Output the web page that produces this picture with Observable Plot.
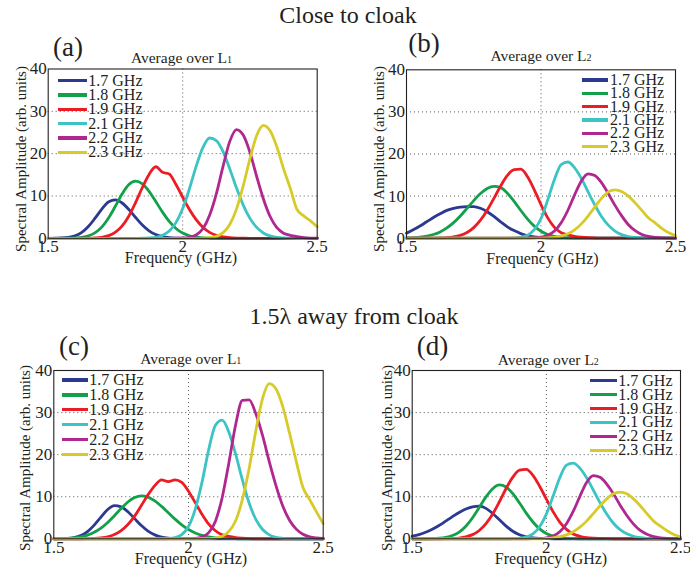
<!DOCTYPE html>
<html><head><meta charset="utf-8">
<script src="https://cdn.jsdelivr.net/npm/d3@7"></script>
<script src="https://cdn.jsdelivr.net/npm/@observablehq/plot@0.6"></script>
<style>
body{margin:0;background:#fff;}
#root{position:relative;width:690px;height:569px;overflow:hidden;font-family:"Liberation Serif","Times New Roman",serif;color:#231f20;}
.abs{position:absolute;white-space:nowrap;line-height:1;}
.c{transform:translate(-50%,-50%);}
.rot{writing-mode:vertical-rl;transform:translate(-50%,-50%) rotate(180deg);}
.xl{line-height:0.85;transform:translate(-50%,-50%);}
.leg{line-height:0.8;transform:translateY(-50%);}
svg{overflow:visible;}
</style></head>
<body><div id="root"></div>
<script>
// ---------- data ----------
const freq = [1.500,1.525,1.550,1.575,1.600,1.625,1.650,1.675,1.700,1.725,
              1.750,1.775,1.800,1.825,1.850,1.875,1.900,1.925,1.950,1.975,
              2.000,2.025,2.050,2.075,2.100,2.125,2.150,2.175,2.200,2.225,
              2.250,2.275,2.300,2.325,2.350,2.375,2.400,2.425,2.450,2.475,2.500];
const seriesLabels = ["1.7 GHz","1.8 GHz","1.9 GHz","2.1 GHz","2.2 GHz","2.3 GHz"];
const seriesColors = ["#2b3990","#12a04a","#ec1c24","#3cc3c3","#b0288f","#d7cb2a"];
const xTicks = [1.5, 2, 2.5];
const yTicks = [0, 10, 20, 30, 40];
const yGrid = [10, 20, 30];
const xGrid = [2];

// (a) close to cloak, average over L1
const A17 = [0,0.02,0.07,0.21,0.59,1.39,2.83,4.82,6.96,8.64,
             9.08,8.34,6.81,4.91,3.14,1.77,0.89,0.40,0.16,0.05,
             0.01,0,0,0,0,0,0,0,0,0,
             0,0,0,0,0,0,0,0,0,0,0];
const A18 = [0,0,0.01,0.02,0.08,0.23,0.59,1.36,2.71,4.85,
             7.62,10.5,12.7,13.5,12.85,11.1,8.68,6.18,3.98,2.33,
             1.23,0.59,0.26,0.10,0.04,0.01,0,0,0,0,
             0,0,0,0,0,0,0,0,0,0,0];
const A19 = [0,0,0,0,0,0.01,0.02,0.08,0.24,0.63,
             1.44,2.93,5.28,8.47,12.0,15.1,16.9,15.6,15.2,12.7,
             9.7,6.8,4.4,2.6,1.40,0.70,0.31,0.13,0.05,0.02,
             0,0,0,0,0,0,0,0,0,0,0];
const A21 = [0,0,0,0,0,0,0,0,0,0,
             0,0,0,0,0.01,0.07,0.24,0.69,1.72,3.70,
             7.02,11.7,17.0,21.4,23.7,23.1,20.5,16.4,11.9,7.85,
             4.71,2.57,1.26,0.56,0.23,0.09,0.03,0,0,0,0];
const A22 = [0,0,0,0,0,0,0,0,0,0,
             0,0,0,0,0,0,0,0,0,0.01,
             0.06,0.24,0.79,2.25,5.45,10.5,17.0,22.9,25.7,24.4,
             20.3,14.6,9.3,5.15,2.5,1.2,0.7,0.4,0.18,0.06,0.01];
const A23 = [0,0,0,0,0,0,0,0,0,0,
             0,0,0,0,0,0,0,0,0,0,
             0,0,0,0.03,0.13,0.45,1.33,3.27,6.9,12.4,
             18.8,24.3,26.7,25.4,21.6,16.4,11.8,6.8,5.3,4.1,2.7];

// (b) close to cloak, average over L2
const B17 = [1.2,2.0,2.9,3.9,4.9,5.8,6.6,7.1,7.4,7.5,
             7.5,7.1,6.3,5.2,3.9,2.7,1.8,1.1,0.6,0.3,
             0.15,0.05,0,0,0,0,0,0,0,0,
             0,0,0,0,0,0,0,0,0,0,0];
const B18 = [0.05,0.12,0.24,0.48,0.87,1.49,2.43,3.70,5.28,7.08,
             8.93,10.6,11.8,12.3,12.0,10.7,8.76,6.58,4.55,2.87,
             1.66,0.89,0.43,0.19,0.08,0.03,0.01,0,0,0,
             0,0,0,0,0,0,0,0,0,0,0];
const B19 = [0,0,0,0,0.02,0.05,0.13,0.31,0.68,1.36,
             2.52,4.27,6.65,9.46,12.4,14.9,16.3,16.4,14.6,11.5,
             7.95,4.83,2.58,1.3,0.8,0.45,0.25,0.12,0.05,0,
             0,0,0,0,0,0,0,0,0,0,0];
const B21 = [0,0,0,0,0,0,0,0,0,0,
             0,0,0,0,0,0.01,0.05,0.20,0.71,2.03,
             4.67,9.08,13.96,17.5,18.1,16.7,14.2,11.0,7.9,5.15,
             3.1,1.7,0.86,0.4,0.17,0.07,0.03,0,0,0,0];
const B22 = [0,0,0,0,0,0,0,0,0,0,
             0,0,0,0,0,0,0,0,0.02,0.06,
             0.23,0.67,1.69,3.67,6.64,10.3,13.6,15.3,14.9,13.2,
             10.6,7.8,5.3,3.2,1.8,0.9,0.42,0.18,0.07,0.03,0.01];
const B23 = [0,0,0,0,0,0,0,0,0,0,
             0,0,0,0,0,0,0,0,0,0,
             0.03,0.09,0.22,0.5,1.05,1.98,3.4,5.27,7.4,9.47,
             11.0,11.5,11.1,10.0,8.4,6.6,4.8,3.6,2.3,1.3,0.6];

// (c) 1.5 lambda away, average over L1
const C17 = [0,0.02,0.09,0.28,0.75,1.71,3.25,5.17,6.97,7.9,
             7.6,6.43,4.8,3.14,1.82,0.93,0.41,0.16,0.06,0.02,
             0,0,0,0,0,0,0,0,0,0,
             0,0,0,0,0,0,0,0,0,0,0];
const C18 = [0,0.04,0.09,0.21,0.45,0.87,1.54,2.53,3.87,5.5,
             7.2,8.75,9.8,10.2,9.88,9.0,7.7,6.2,4.67,3.31,
             2.2,1.38,0.81,0.45,0.23,0.11,0.05,0.02,0,0,
             0,0,0,0,0,0,0,0,0,0,0];
const C19 = [0,0,0,0,0,0.03,0.09,0.22,0.49,1.04,
             1.97,3.41,5.4,7.92,10.5,12.65,14.0,13.6,14.0,13.4,
             11.3,8.6,5.85,3.5,1.92,0.94,0.6,0.3,0.15,0.05,
             0,0,0,0,0,0,0,0,0,0,0];
const C21 = [0,0,0,0,0,0,0,0,0,0,
             0,0,0,0,0,0,0.01,0.06,0.28,1.01,
             2.92,7.0,13.4,21.2,27.0,28.2,25.3,20.1,14.0,8.5,
             4.6,2.2,0.93,0.35,0.12,0.04,0.01,0,0,0,0];
const C22 = [0,0,0,0,0,0,0,0,0,0,
             0,0,0,0,0,0,0,0,0,0,
             0.02,0.09,0.42,1.47,4.2,9.8,18.1,27.1,32.9,33.0,
             29.7,24.5,18.3,12.6,7.8,4.4,2.3,1.08,0.46,0.2,0.08];
const C23 = [0,0,0,0,0,0,0,0,0,0,
             0,0,0,0,0,0,0,0,0,0,
             0,0,0.01,0.04,0.18,0.6,1.75,4.3,9.3,16.7,
             25.7,33.4,36.9,35.6,31.4,25.1,18.4,12.2,9.3,6.4,3.6];

// (d) 1.5 lambda away, average over L2
const D17 = [0.62,1.01,1.56,2.29,3.15,4.2,5.26,6.27,7.07,7.6,
             7.75,7.23,6.02,4.51,3.02,1.8,0.97,0.47,0.2,0.08,
             0.03,0,0,0,0,0,0,0,0,0,
             0,0,0,0,0,0,0,0,0,0,0];
const D18 = [0,0,0.01,0.04,0.13,0.33,0.77,1.59,2.98,5.0,
             7.45,9.95,11.9,12.8,12.3,10.75,8.5,6.1,4.0,2.35,
             1.26,0.62,0.27,0.1,0.04,0.01,0,0,0,0,
             0,0,0,0,0,0,0,0,0,0,0];
const D19 = [0,0,0,0,0,0.02,0.07,0.18,0.45,0.99,
             1.98,3.6,5.88,8.8,11.95,14.65,16.3,16.5,15.1,12.5,
             9.45,6.45,3.98,2.24,1.15,0.6,0.3,0.15,0.08,0.03,
             0,0,0,0,0,0,0,0,0,0,0];
const D21 = [0,0,0,0,0,0,0,0,0,0,
             0,0,0,0,0,0.03,0.12,0.41,1.19,2.88,
             5.88,10.1,14.5,17.5,18.0,16.8,14.5,11.6,8.6,5.9,
             3.7,2.17,1.19,0.6,0.28,0.12,0.05,0.02,0,0,0];
const D22 = [0,0,0,0,0,0,0,0,0,0,
             0,0,0,0,0,0,0,0,0.02,0.06,
             0.22,0.66,1.66,3.6,6.5,10.1,13.4,15.0,14.6,13.0,
             10.7,8.0,5.55,3.5,2.0,1.08,0.52,0.24,0.1,0.04,0.02];
const D23 = [0,0,0,0,0,0,0,0,0,0,
             0,0,0,0,0,0,0,0,0,0,
             0.1,0.23,0.49,0.94,1.67,2.77,4.2,6.0,7.87,9.5,
             10.7,11.1,10.7,9.5,7.87,6.0,4.2,3.0,1.9,1.0,0.49];

const groupTitles = ["Close to cloak", "1.5λ away from cloak"];
const panelLabels = ["(a)","(b)","(c)","(d)"];
const panelSubs = ["1","2","1","2"];
const xLabel = "Frequency (GHz)";
const yLabel = "Spectral Amplitude (arb. units)";

// ---------- layout ----------
const root = document.getElementById("root");
function addText(txt, x, y, size, cls, html) {
  const d = document.createElement("div");
  d.className = "abs " + (cls || "c");
  d.style.left = x + "px"; d.style.top = y + "px"; d.style.fontSize = size + "px";
  if (html) d.innerHTML = txt; else d.textContent = txt;
  root.appendChild(d);
  return d;
}

const panels = [
  {series:[A17,A18,A19,A21,A22,A23], left:0, top:0, w:345, h:290, mt:68.5, mr:28.3, mb:52.2, ml:47.7,
   lab:[68,46.5], sub:[181.5,57.5], xl:[181,258], yl:[20.5,159],
   leg:{x0:58.3,x1:86.7,tx:88.3,y0:80.7,dy:14.3}},
  {series:[B17,B18,B19,B21,B22,B23], left:345, top:0, w:345, h:290, mt:69.3, mr:15, mb:52.3, ml:61,
   lab:[424,43], sub:[541,56], xl:[542.5,258.5], yl:[378.5,159],
   leg:{x0:581.7,x1:608.3,tx:610,y0:80,dy:13.35}},
  {series:[C17,C18,C19,C21,C22,C23], left:0, top:290, w:345, h:279, mt:80, mr:22.3, mb:30.7, ml:53.3,
   lab:[74,346], sub:[190.8,359], xl:[191,559], yl:[25,457.5],
   leg:{x0:61.7,x1:88.3,tx:89.3,y0:380,dy:14.9}},
  {series:[D17,D18,D19,D21,D22,D23], left:345, top:290, w:345, h:279, mt:80, mr:10, mb:30.7, ml:66.7,
   lab:[432.5,346], sub:[548.3,360], xl:[551,559], yl:[387,457.5],
   leg:{x0:590,x1:616.7,tx:618.3,y0:380.7,dy:13.9}}
];

panels.forEach((p, pi) => {
  const rows = [];
  p.series.forEach((vals, k) => vals.forEach((v, i) => rows.push({f: freq[i], v, s: seriesLabels[k]})));
  const chart = Plot.plot({
    width: p.w, height: p.h,
    marginTop: p.mt, marginRight: p.mr, marginBottom: p.mb, marginLeft: p.ml,
    style: {fontFamily: '"Liberation Serif", serif', fontSize: "17px", color: "#231f20", background: "transparent", overflow: "visible"},
    x: {domain: [1.5, 2.5], ticks: xTicks, tickFormat: d => String(d), tickSize: 0, tickPadding: 2, label: null},
    y: {domain: [0, 40], ticks: yTicks, tickSize: 0, tickPadding: 1.5, label: null},
    color: {domain: seriesLabels, range: seriesColors},
    marks: [
      Plot.ruleY(yGrid, {stroke: "#555", strokeDasharray: "1,3", strokeWidth: 1}),
      Plot.ruleX(xGrid, {stroke: "#555", strokeDasharray: "1,3", strokeWidth: 1}),
      Plot.line(rows, {x: "f", y: "v", z: "s", stroke: "s", strokeWidth: 2.8, curve: "monotone-x"}),
      Plot.frame({stroke: "#231f20", strokeWidth: 1.1})
    ]
  });
  chart.style.position = "absolute";
  chart.style.left = p.left + "px";
  chart.style.top = p.top + "px";
  root.appendChild(chart);

  addText(panelLabels[pi], p.lab[0], p.lab[1], 27);
  addText('Average over L<span style="font-size:10px">' + panelSubs[pi] + '</span>', p.sub[0], p.sub[1], 15.5, "c", true);
  addText(xLabel, p.xl[0], p.xl[1], 16, "xl");
  addText(yLabel, p.yl[0], p.yl[1], 15, "rot");

  const L = p.leg;
  seriesLabels.forEach((lab, k) => {
    const y = L.y0 + k * L.dy;
    const ln = document.createElement("div");
    ln.className = "abs";
    ln.style.left = L.x0 + "px"; ln.style.top = (y - 1.7) + "px";
    ln.style.width = (L.x1 - L.x0) + "px"; ln.style.height = "3.4px";
    ln.style.background = seriesColors[k];
    root.appendChild(ln);
    addText(lab, L.tx, y, 16, "leg");
  });
});

addText(groupTitles[0], 348, 15, 24);
addText(groupTitles[1], 354, 315.5, 24);
</script>
</body></html>
